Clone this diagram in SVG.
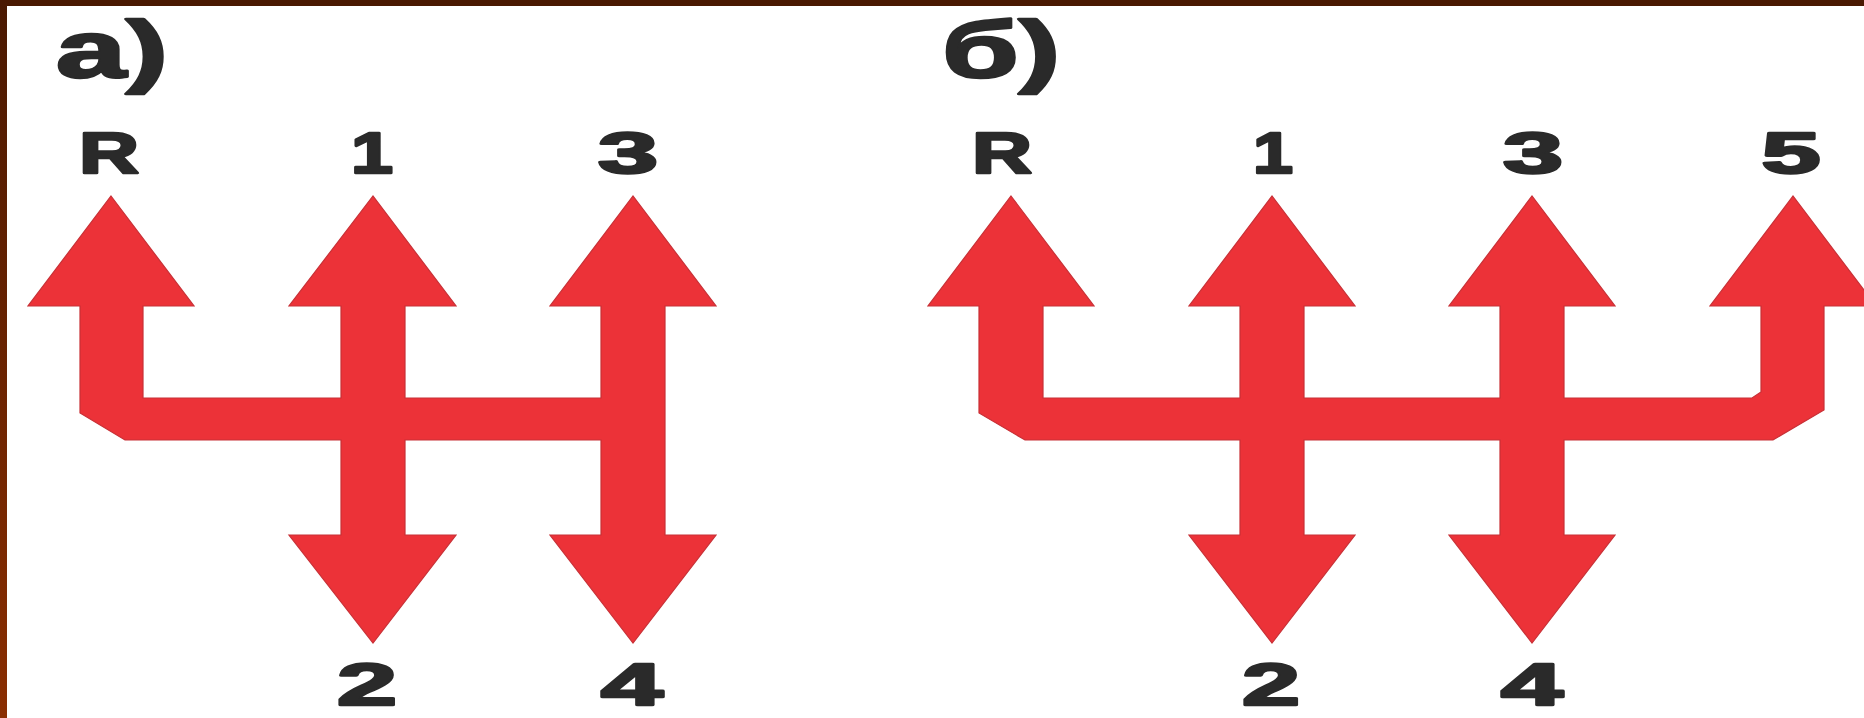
<svg xmlns="http://www.w3.org/2000/svg" width="1864" height="718" viewBox="0 0 1864 718">
  <defs>
    <linearGradient id="leftBorder" x1="0" y1="0" x2="0" y2="1">
      <stop offset="0" stop-color="#4a1902"/>
      <stop offset="1" stop-color="#8a2e02"/>
    </linearGradient>
  </defs>
  <style>
    .shape { fill: #ec3238; stroke: #c83036; stroke-width: 1.2; stroke-linejoin: miter; }
    .lbl { font-family: "Liberation Sans", Arial, sans-serif; font-weight: bold; fill: #2a2a2a; stroke: #2a2a2a; stroke-width: 2.6; stroke-linejoin: round; paint-order: stroke; text-anchor: middle; }
    .top { font-size: 58px; }
    .bot { font-size: 60px; }
    .title { font-size: 80px; }
  </style>
  <rect x="0" y="0" width="1864" height="718" fill="#ffffff"/>
  <rect x="0" y="0" width="1864" height="6" fill="#4a1902"/>
  <rect x="0" y="0" width="7" height="718" fill="url(#leftBorder)"/>

  <g id="diagram-a">
    <path class="shape" d="M111,196 L194,306 L143,306 L143,398 L341,398 L341,306 L289,306 L373,196 L456,306 L405,306 L405,398 L601,398 L601,306 L550,306 L633,196 L716,306 L665,306 L665,535 L716,535 L633,643 L550,535 L601,535 L601,440 L405,440 L405,535 L456,535 L373,643 L289,535 L341,535 L341,440 L125,440 L80,413 L80,306 L28,306 Z"/>
  </g>

  <g id="diagram-b">
    <path class="shape" d="M1011,196 L1094,306 L1043,306 L1043,398 L1240,398 L1240,306 L1189,306 L1272,196 L1355,306 L1304,306 L1304,398 L1500,398 L1500,306 L1449,306 L1532,196 L1615,306 L1564,306 L1564,398 L1752,398 L1761,392 L1761,306 L1710,306 L1793,196 L1876,306 L1824,306 L1824,410 L1773,440 L1564,440 L1564,535 L1615,535 L1532,643 L1449,535 L1500,535 L1500,440 L1304,440 L1304,535 L1355,535 L1272,643 L1189,535 L1240,535 L1240,440 L1025,440 L979,413 L979,306 L928,306 Z"/>
  </g>

  <g id="labels-a">
    <text class="lbl title" x="112" y="77" textLength="112" lengthAdjust="spacingAndGlyphs">а)</text>
    <text class="lbl top" x="109" y="173" textLength="60" lengthAdjust="spacingAndGlyphs">R</text>
    <text class="lbl top" x="372" y="173" textLength="42" lengthAdjust="spacingAndGlyphs">1</text>
    <text class="lbl top" x="628" y="173" textLength="60" lengthAdjust="spacingAndGlyphs">3</text>
    <text class="lbl bot" x="367" y="705" textLength="60" lengthAdjust="spacingAndGlyphs">2</text>
    <text class="lbl bot" x="632" y="705" textLength="62" lengthAdjust="spacingAndGlyphs">4</text>
  </g>

  <g id="labels-b">
    <text class="lbl title" x="1001" y="77" textLength="118" lengthAdjust="spacingAndGlyphs">б)</text>
    <text class="lbl top" x="1002" y="173" textLength="60" lengthAdjust="spacingAndGlyphs">R</text>
    <text class="lbl top" x="1273" y="173" textLength="40" lengthAdjust="spacingAndGlyphs">1</text>
    <text class="lbl top" x="1533" y="173" textLength="60" lengthAdjust="spacingAndGlyphs">3</text>
    <text class="lbl top" x="1791" y="173" textLength="59" lengthAdjust="spacingAndGlyphs">5</text>
    <text class="lbl bot" x="1271" y="705" textLength="58" lengthAdjust="spacingAndGlyphs">2</text>
    <text class="lbl bot" x="1532" y="705" textLength="62" lengthAdjust="spacingAndGlyphs">4</text>
  </g>
</svg>
